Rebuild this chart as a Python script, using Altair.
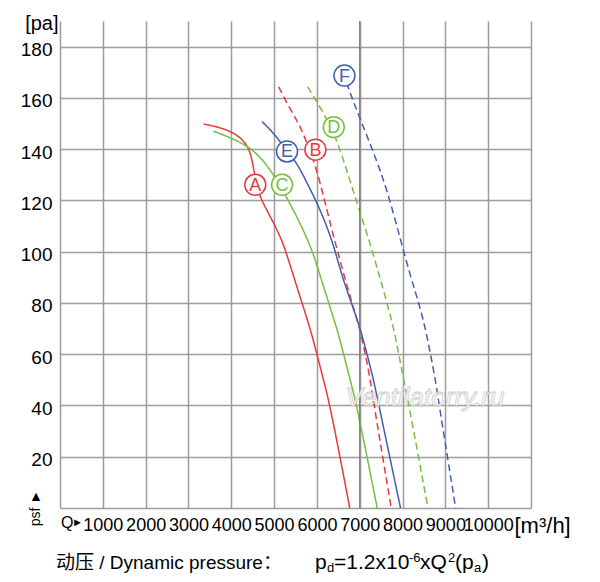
import altair as alt
import pandas as pd

# ---- data ----
A_q = [3353, 3821, 4211, 4444, 4522, 4600, 4678, 4912, 5146, 5263, 5458, 5653, 5848, 6004, 6160, 6331, 6767]
A_p = [149.8, 148.2, 145.0, 139.8, 132.0, 126.0, 120.9, 113.7, 105.9, 100.7, 90.3, 79.9, 69.8, 59.8, 49.6, 38.2, 0]

B_q = [5107, 5380, 5614, 5800, 5965, 6160, 6330, 6472, 6643, 6822, 7002, 7135, 7252, 7353, 7735]
B_p = [164.3, 155.4, 148.9, 141.0, 133.6, 121.5, 109.8, 100.7, 90.3, 79.9, 69.8, 59.8, 49.6, 38.2, 0]

C_q = [3586, 4211, 4600, 4951, 5302, 5614, 5887, 6082, 6277, 6472, 6628, 6784, 6955, 7408]
C_p = [147.0, 143.0, 138.5, 131.3, 120.9, 111.0, 100.7, 90.3, 79.9, 69.8, 59.8, 49.6, 38.2, 0]

D_q = [5786, 6160, 6472, 6740, 6940, 7290, 7462, 7641, 7797, 7914, 8031, 8171, 8593]
D_p = [164.3, 154.1, 143.7, 129.3, 119.0, 100.7, 90.3, 79.9, 69.8, 59.8, 49.6, 38.2, 0]

E_q = [4717, 4990, 5270, 5536, 5770, 6004, 6238, 6420, 6589, 6807, 7018, 7174, 7330, 7470, 7953]
E_p = [150.8, 146.3, 140.0, 134.6, 126.8, 119.0, 109.8, 100.7, 90.3, 79.9, 69.8, 59.8, 49.6, 38.2, 0]

F_q = [6700, 6745, 7018, 7330, 7641, 7953, 8187, 8382, 8538, 8655, 8772, 8873, 9240]
F_p = [166.0, 163.2, 151.5, 138.5, 124.1, 104.6, 90.3, 79.9, 69.8, 59.8, 49.6, 38.2, 0]

label_names = ["A", "B", "C", "D", "E", "F"]
label_q = [4561, 5965, 5186, 6394, 5302, 6643]
label_p = [126.1, 139.8, 126.1, 148.6, 139.1, 168.7]

x_ticks = list(range(0, 11001, 1000))
y_ticks = list(range(0, 191, 10))

RED, GREEN, BLUE = "#e8383d", "#74bf44", "#4060ae"
series_colors = [RED, RED, GREEN, GREEN, BLUE, BLUE]
series_dash = [[1, 0], [7, 4], [1, 0], [7, 4], [1, 0], [7, 4]]

curves = {"A": (A_q, A_p), "B": (B_q, B_p), "C": (C_q, C_p),
          "D": (D_q, D_p), "E": (E_q, E_p), "F": (F_q, F_p)}
rows = []
for name, (qs, ps) in curves.items():
    for i, (q, p) in enumerate(zip(qs, ps)):
        rows.append({"series": name, "q": q, "p": p, "i": i})
df = pd.DataFrame(rows)
labels_df = pd.DataFrame({"series": label_names, "q": label_q, "p": label_p})

FONT = "Liberation Sans"
MIXED = "Liberation Sans, Noto Sans CJK SC"

xscale = alt.Scale(domain=[0, 11000], nice=False, zero=False)
yscale = alt.Scale(domain=[0, 190], nice=False, zero=False)

x_enc = alt.X("q:Q", scale=xscale, axis=alt.Axis(
    values=x_ticks, format="d",
    labelExpr="datum.value >= 1000 && datum.value <= 10000 ? datum.label : ''",
    grid=True, ticks=False, domain=False, labelOverlap=False, labelFlush=False,
    labelFontSize=18, labelPadding=8, labelFont=FONT, labelColor="#000",
    title="[m³/h]", titleFont=FONT, titleFontSize=22, titleFontWeight="normal",
    titleColor="#000", titleAlign="left", titleBaseline="middle",
    titleX=454, titleY=17, titleAnchor="start"))
y_enc = alt.Y("p:Q", scale=yscale, axis=alt.Axis(
    values=y_ticks, format="d",
    labelExpr="datum.value >= 20 && datum.value % 20 == 0 ? datum.label : ''",
    grid=True, ticks=False, domain=False, labelOverlap=False, labelFlush=False,
    labelFontSize=19, labelPadding=8, labelFont=FONT, labelColor="#000",
    labelOffset=3,
    title="[pa]", titleFont=FONT, titleFontSize=20, titleFontWeight="normal",
    titleColor="#000", titleAngle=0, titleAlign="right", titleBaseline="middle",
    titleX=-2, titleY=2))

color_scale = alt.Scale(domain=label_names, range=series_colors)
dash_scale = alt.Scale(domain=label_names, range=series_dash)

lines = alt.Chart(df).mark_line(strokeWidth=1.5, interpolate="basis").encode(
    x=x_enc, y=y_enc,
    color=alt.Color("series:N", scale=color_scale, legend=None),
    strokeDash=alt.StrokeDash("series:N", scale=dash_scale, legend=None),
    order="i:Q",
)

dark_line = alt.Chart(pd.DataFrame({"q": [7000]})).mark_rule(
    color="#6a6a6a", strokeWidth=1).encode(x="q:Q")

circles = alt.Chart(labels_df).mark_point(
    shape="circle", filled=False, fill="white", fillOpacity=1,
    size=440, strokeWidth=1.5, opacity=1).encode(
    x="q:Q", y="p:Q",
    stroke=alt.Stroke("series:N", scale=color_scale, legend=None),
)
letters = alt.Chart(labels_df).mark_text(
    font=FONT, fontSize=18, baseline="middle", align="center", dy=1).encode(
    x="q:Q", y="p:Q", text="series:N",
    color=alt.Color("series:N", scale=color_scale, legend=None),
)

one = pd.DataFrame({"k": [0]})


def txt(s, px, py, size=19, **kw):
    return alt.Chart(one).mark_text(
        text=s, font=kw.pop("font", FONT), fontSize=size,
        align=kw.pop("align", "left"),
        baseline=kw.pop("baseline", "alphabetic"), color=kw.pop("color", "#000"),
        **kw).encode(x=alt.value(px), y=alt.value(py))


annotations = [
    txt("Q", 1, 502, size=16, baseline="middle"),
    txt("►", 12, 502, size=11, baseline="middle"),
    txt("psf ►", -24, 487, size=14, angle=270, align="center", baseline="middle"),
    txt("Ventilatorry.ru", 365, 377, size=26, fontStyle="italic", align="center",
        baseline="middle", color="white", stroke="#c4c4c4", strokeWidth=0.8,
        opacity=0.9),
    txt("动压 / Dynamic pressure：", -4, 548, size=19, font=MIXED),
    txt("p", 255, 548, size=21),
    txt("d", 267, 551, size=13),
    txt("=1.2x10", 274, 548, size=21),
    txt("-6", 349, 541, size=13),
    txt("xQ", 360, 548, size=21),
    txt("2", 388, 541, size=13),
    txt("(p", 395, 548, size=21),
    txt("a", 414, 551, size=13),
    txt(")", 422, 548, size=21),
]

chart = alt.layer(lines, dark_line, circles, letters, *annotations).properties(
    width=471, height=487,
    autosize=alt.AutoSizeParams(type="none"),
    padding={"left": 52, "top": 13, "right": 61, "bottom": 66},
    background="white",
).configure_axis(
    gridColor="#9c9c9c", gridWidth=1.5, gridOpacity=1
).configure_view(stroke=None)

chart.save("out.html", embed_options={"renderer": "svg", "actions": False})
